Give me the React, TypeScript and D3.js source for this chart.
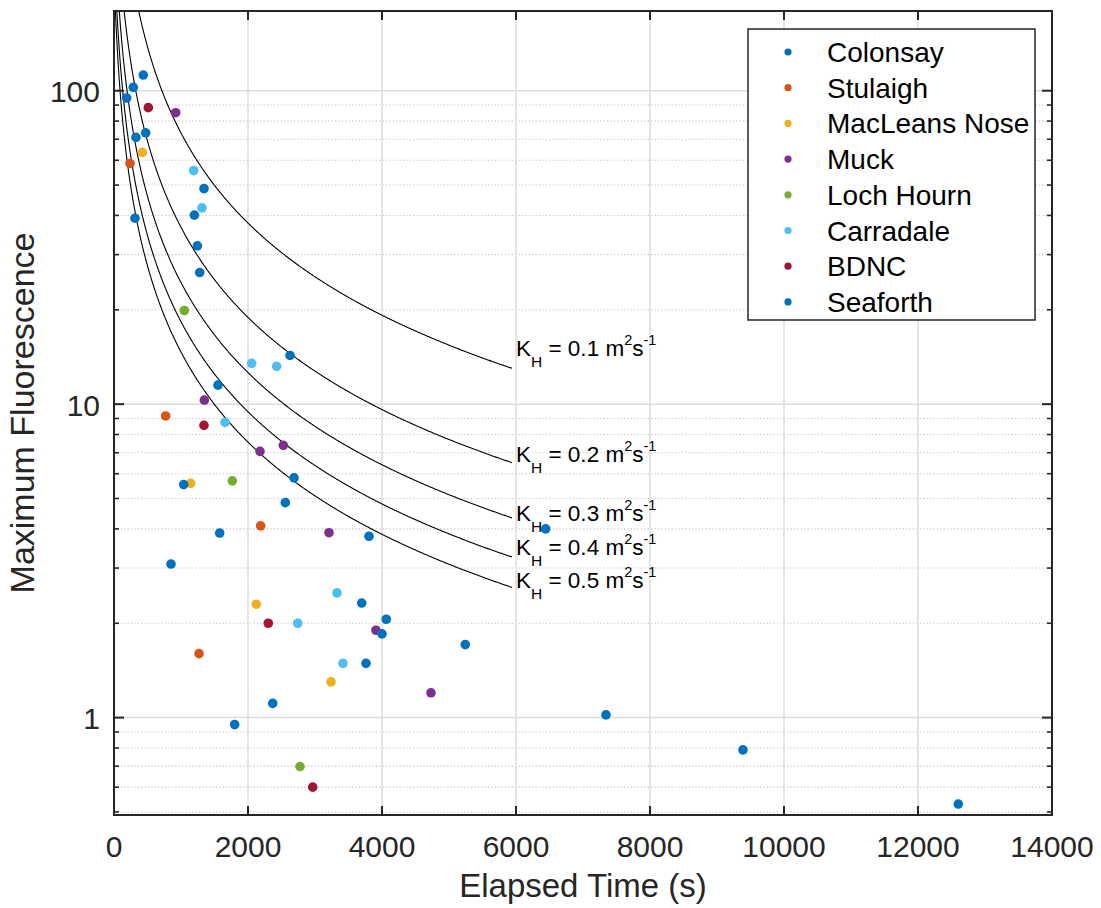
import React from "react";
import * as d3 from "d3";

// ---- Data ----
const seriesNames = ["Colonsay", "Stulaigh", "MacLeans Nose", "Muck", "Loch Hourn", "Carradale", "BDNC", "Seaforth"];
const seriesColors = ["#0072BD", "#D95319", "#EDB120", "#7E2F8E", "#77AC30", "#4DBEEE", "#A2142F", "#0072BD"];

const colonsay: [number, number][] = [[437, 112.2], [288, 102.5], [189, 94.8], [473, 73.4], [328, 71], [313, 39.2], [1343, 48.7], [1199, 40.1], [1244, 32.0], [1279, 26.3]];
const stulaigh: [number, number][] = [[239, 58.6], [771, 9.17], [2189, 4.09], [1269, 1.6]];
const macleans: [number, number][] = [[423, 63.6], [1144, 5.59], [2124, 2.3], [3239, 1.3]];
const muck: [number, number][] = [[921, 85.1], [1348, 10.3], [2527, 7.39], [2179, 7.07], [3209, 3.89], [3910, 1.9], [4731, 1.2]];
const lochHourn: [number, number][] = [[1050, 19.9], [1766, 5.69], [2776, 0.698]];
const carradale: [number, number][] = [[1189, 55.6], [1313, 42.3], [2055, 13.5], [2428, 13.2], [1657, 8.75], [3328, 2.5], [2742, 2.0], [3418, 1.49]];
const bdnc: [number, number][] = [[512, 88.3], [1343, 8.56], [2303, 2.0], [2966, 0.6]];
const seaforth: [number, number][] = [[2627, 14.3], [1552, 11.5], [2687, 5.82], [1040, 5.54], [2557, 4.85], [1577, 3.88], [3806, 3.79], [851, 3.09], [6443, 4.0], [3697, 2.32], [4064, 2.06], [4000, 1.85], [3761, 1.49], [2369, 1.11], [1801, 0.95], [5243, 1.71], [7343, 1.02], [9388, 0.789], [12601, 0.53]];
const seriesData = [colonsay, stulaigh, macleans, muck, lochHourn, carradale, bdnc, seaforth];

// Diffusion model curves: F = A / (K_H * (t + t0))
const khValues = [0.1, 0.2, 0.3, 0.4, 0.5];
const khLabelF = [14.2, 6.55, 4.25, 3.3, 2.59];
const modelA = 7815;
const modelT0 = 66;
const curveTEnd = 5940;
const labelT = 6000;

const xTicks = [0, 2000, 4000, 6000, 8000, 10000, 12000, 14000];
const yMajorTicks = [1, 10, 100];
const yMinorTicks = [0.5, 0.6, 0.7, 0.8, 0.9, 2, 3, 4, 5, 6, 7, 8, 9, 20, 30, 40, 50, 60, 70, 80, 90];

const W = 1101, H = 908;
const L = 114, R = 1052, T = 11, B = 815;
const FONT = "'Liberation Sans', Arial, Helvetica, sans-serif";
const AX = "#262626";

export default function App() {
  const x = d3.scaleLinear().domain([0, 14000]).range([L, R]);
  const y = d3.scaleLog().domain([0.489, 179.6]).range([B, T]);

  const curves = khValues.map((k) => {
    const ts = d3.range(0, curveTEnd + 1, 10);
    const line = d3.line<number>().x((t) => x(t)).y((t) => y(modelA / (k * (t + modelT0))));
    return line(ts) || "";
  });

  return (
    <svg width={W} height={H} style={{ position: "absolute", left: 0, top: 0, background: "#fff" }} fontFamily={FONT}>
      <defs>
        <clipPath id="plotclip">
          <rect x={L} y={T} width={R - L} height={B - T} />
        </clipPath>
      </defs>
      <rect x={0} y={0} width={W} height={H} fill="#fff" />
      {/* minor grid */}
      {yMinorTicks.map((v) => (
        <line key={"mg" + v} x1={L} x2={R} y1={y(v)} y2={y(v)} stroke="#c4c4c4" strokeWidth={1.1} strokeDasharray="1.2 2.2" />
      ))}
      {/* major grid */}
      {yMajorTicks.map((v) => (
        <line key={"yg" + v} x1={L} x2={R} y1={y(v)} y2={y(v)} stroke="#dcdcdc" strokeWidth={1.5} />
      ))}
      {xTicks.slice(1, -1).map((v) => (
        <line key={"xg" + v} x1={x(v)} x2={x(v)} y1={T} y2={B} stroke="#dcdcdc" strokeWidth={1.5} />
      ))}

      {/* model curves */}
      <g clipPath="url(#plotclip)">
        {curves.map((d, i) => (
          <path key={"c" + i} d={d} fill="none" stroke="#000" strokeWidth={1.1} />
        ))}
      </g>

      {/* curve labels */}
      {khValues.map((k, i) => (
        <text key={"kl" + i} x={x(labelT)} y={y(khLabelF[i])} fontSize={22.5} fill="#000">
          K<tspan dy={11} fontSize={15.5}>H</tspan>
          <tspan dy={-11}>{` = ${k} m`}</tspan>
          <tspan dy={-11} fontSize={14.5}>2</tspan>
          <tspan dy={11}>s</tspan>
          <tspan dy={-11} fontSize={14.5}>-1</tspan>
        </text>
      ))}

      {/* data points */}
      {seriesData.map((pts, si) => (
        <g key={"s" + si}>
          {pts.map((p, pi) => (
            <circle key={pi} cx={x(p[0])} cy={y(p[1])} r={4.8} fill={seriesColors[si]} />
          ))}
        </g>
      ))}

      {/* axes box */}
      <rect x={L} y={T} width={R - L} height={B - T} fill="none" stroke={AX} strokeWidth={2} />

      {/* x ticks */}
      {xTicks.map((v) => (
        <g key={"xt" + v}>
          <line x1={x(v)} x2={x(v)} y1={B} y2={B - 9} stroke={AX} strokeWidth={2} />
          <line x1={x(v)} x2={x(v)} y1={T} y2={T + 9} stroke={AX} strokeWidth={2} />
          <text x={x(v)} y={857} textAnchor="middle" fontSize={30} fill={AX}>{v}</text>
        </g>
      ))}
      {/* y ticks */}
      {yMajorTicks.map((v) => (
        <g key={"yt" + v}>
          <line x1={L} x2={L + 10} y1={y(v)} y2={y(v)} stroke={AX} strokeWidth={2} />
          <line x1={R} x2={R - 10} y1={y(v)} y2={y(v)} stroke={AX} strokeWidth={2} />
          <text x={100} y={y(v) + 11.5} textAnchor="end" fontSize={30} fill={AX}>{v}</text>
        </g>
      ))}
      {yMinorTicks.map((v) => (
        <g key={"ymt" + v}>
          <line x1={L} x2={L + 5} y1={y(v)} y2={y(v)} stroke={AX} strokeWidth={1.6} />
          <line x1={R} x2={R - 5} y1={y(v)} y2={y(v)} stroke={AX} strokeWidth={1.6} />
        </g>
      ))}

      {/* axis labels */}
      <text x={(L + R) / 2} y={897} textAnchor="middle" fontSize={33} fill={AX}>Elapsed Time (s)</text>
      <text transform={`translate(34, ${(T + B) / 2}) rotate(-90)`} textAnchor="middle" fontSize={34} fill={AX}>Maximum Fluorescence</text>

      {/* legend */}
      <rect x={748} y={29} width={287} height={291} fill="#fff" stroke={AX} strokeWidth={1.5} />
      {seriesNames.map((n, i) => (
        <g key={"lg" + i}>
          <circle cx={788} cy={52 + i * 35.7} r={3.6} fill={seriesColors[i]} />
          <text x={827} y={52 + i * 35.7 + 10} fontSize={28} fill="#000">{n}</text>
        </g>
      ))}
    </svg>
  );
}
